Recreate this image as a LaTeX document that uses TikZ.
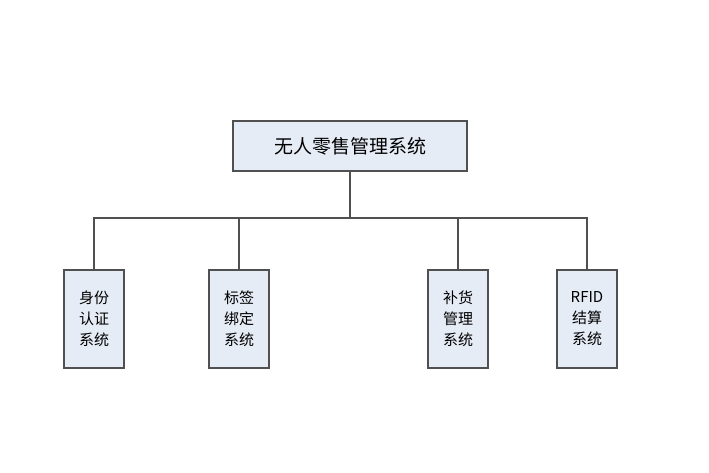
\documentclass[tikz,border=0pt]{standalone}
\usepackage{fontspec}
\newfontfamily\cjk{Noto Sans CJK SC}
\definecolor{boxfill}{HTML}{E6ECF6}
\definecolor{boxline}{HTML}{505050}
\begin{document}
\begin{tikzpicture}[x=1pt,y=-1pt,
  box/.style={draw=boxline,line width=1.5pt,fill=boxfill,inner sep=0pt,font=\cjk},
  conn/.style={draw=boxline,line width=1.3pt}]
\useasboundingbox (0,0) rectangle (709,473);
\node[box,minimum width=234pt,minimum height=50pt,font=\cjk\fontsize{19}{22}\selectfont] (top) at (350,146) {无人零售管理系统};
\tikzset{child/.style={box,minimum width=60pt,minimum height=98pt,align=center,font=\cjk\fontsize{15}{21}\selectfont}}
\node[child] (a) at (94,319) {身份\\认证\\系统};
\node[child] (b) at (239,319) {标签\\绑定\\系统};
\node[child] (c) at (458,319) {补货\\管理\\系统};
\node[child] (d) at (587,319) {RFID\\结算\\系统};
\coordinate (j) at (350,218);
\draw[conn] (top.south) -- (j);
\draw[conn] (a.north) |- (j) -| (d.north);
\draw[conn] (b.north) -- (b.north |- j);
\draw[conn] (c.north) -- (c.north |- j);
\end{tikzpicture}
\end{document}
